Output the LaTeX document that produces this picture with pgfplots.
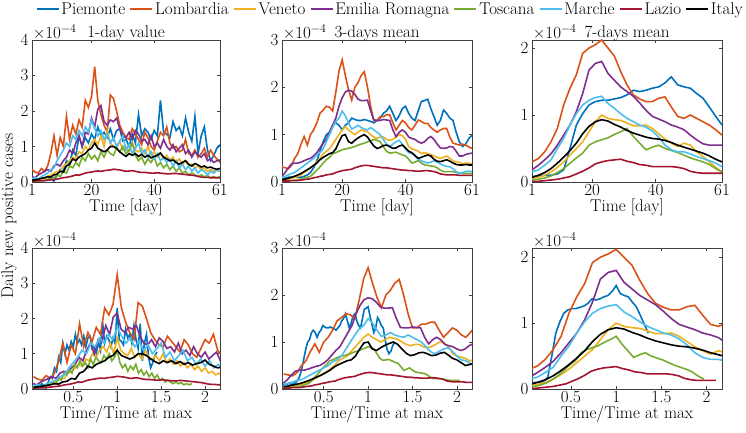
\documentclass[border=0pt]{standalone}
\usepackage{fontspec}
\usepackage{pgfplots}
\usepackage{pgfplotstable}
\pgfplotsset{compat=1.18}

\definecolor{cpie}{rgb}{0,0.447,0.741}
\definecolor{clom}{rgb}{0.85,0.325,0.098}
\definecolor{cven}{rgb}{0.929,0.694,0.125}
\definecolor{cemi}{rgb}{0.494,0.184,0.556}
\definecolor{ctos}{rgb}{0.466,0.674,0.188}
\definecolor{cmar}{rgb}{0.301,0.745,0.933}
\definecolor{claz}{rgb}{0.635,0.078,0.184}

% 1-day values (x1e-4)
\pgfplotstableread{
day pie lom ven emi tos mar laz ita
1 0.10 0.35 0.05 0.15 0.02 0.10 0.02 0.05
2 0.05 0.28 0.05 0.12 0.03 0.12 0.03 0.06
3 0.08 0.25 0.08 0.20 0.02 0.08 0.03 0.08
4 0.12 0.38 0.10 0.25 0.05 0.15 0.03 0.10
5 0.10 0.30 0.10 0.30 0.04 0.20 0.04 0.12
6 0.15 0.45 0.15 0.35 0.08 0.25 0.05 0.15
7 0.10 0.80 0.20 0.30 0.10 0.35 0.06 0.14
8 0.02 1.30 0.25 0.45 0.12 0.40 0.07 0.20
9 0.20 0.75 0.30 0.50 0.20 0.60 0.08 0.22
10 0.35 1.25 0.30 0.45 0.15 0.75 0.10 0.30
11 0.30 1.00 0.45 0.60 0.30 0.90 0.12 0.28
12 0.60 1.85 0.50 0.70 0.25 1.10 0.13 0.45
13 0.50 1.20 0.60 0.90 0.45 1.00 0.15 0.50
14 0.90 1.60 0.70 0.80 0.40 1.30 0.17 0.65
15 0.75 1.35 0.65 1.10 0.55 1.20 0.20 0.60
16 1.30 1.75 0.85 1.30 0.45 1.45 0.19 0.70
17 1.00 1.55 0.80 1.00 0.70 1.30 0.22 0.75
18 1.25 2.30 1.00 1.40 0.60 1.55 0.25 0.80
19 1.10 2.10 0.90 1.35 0.80 1.40 0.27 0.90
20 1.35 2.40 1.10 1.80 0.65 1.75 0.28 0.95
21 1.20 3.25 1.20 1.55 0.75 1.50 0.30 1.10
22 1.55 2.30 1.05 2.05 0.60 1.30 0.31 0.95
23 1.30 1.90 1.30 2.15 0.85 1.45 0.30 0.90
24 1.40 1.60 1.00 1.70 0.70 1.20 0.32 0.85
25 1.25 1.40 1.45 1.60 0.90 1.35 0.33 0.90
26 1.50 2.45 1.10 1.75 0.80 1.10 0.34 1.00
27 1.20 2.35 1.00 1.70 0.75 1.25 0.36 1.00
28 1.45 2.00 0.95 1.80 0.95 1.00 0.35 0.95
29 1.50 1.60 1.15 1.50 0.85 1.15 0.34 0.85
30 1.15 1.40 0.90 1.30 1.00 1.30 0.32 0.78
31 1.20 1.25 1.00 1.25 0.80 0.90 0.30 0.72
32 1.00 1.20 0.85 1.40 0.90 1.05 0.31 0.80
33 1.35 1.50 1.10 1.20 1.10 0.80 0.32 0.75
34 1.10 1.35 0.90 1.45 0.75 0.95 0.30 0.80
35 1.90 1.20 0.85 1.35 0.60 1.10 0.28 0.72
36 1.30 1.05 0.95 1.15 0.70 0.80 0.27 0.78
37 1.50 1.40 0.80 1.20 0.50 0.90 0.27 0.70
38 1.40 1.25 1.00 1.05 0.65 0.70 0.26 0.75
39 1.20 1.00 0.75 1.30 0.55 0.85 0.25 0.68
40 1.45 0.90 0.85 1.00 0.70 0.65 0.25 0.72
41 1.30 1.15 0.70 1.10 0.45 0.80 0.26 0.75
42 2.30 1.40 0.80 0.95 0.55 0.60 0.25 0.82
43 1.40 1.30 0.65 1.20 0.40 0.70 0.24 0.70
44 1.35 1.55 0.75 1.00 0.50 0.55 0.23 0.65
45 1.25 1.10 0.60 0.90 0.35 0.65 0.23 0.60
46 1.70 0.95 0.70 1.05 0.45 0.45 0.24 0.62
47 1.45 1.00 0.55 0.85 0.30 0.60 0.24 0.55
48 1.55 0.85 0.65 0.95 0.40 0.40 0.23 0.50
49 1.30 0.90 0.50 1.05 0.25 0.50 0.22 0.55
50 1.80 1.20 0.60 0.80 0.30 0.35 0.21 0.60
51 1.40 0.80 0.45 0.90 0.20 0.45 0.20 0.50
52 1.15 0.75 0.50 0.70 0.25 0.30 0.19 0.45
53 1.85 0.90 0.40 0.85 0.20 0.40 0.18 0.52
54 0.80 0.70 0.45 0.75 0.15 0.25 0.16 0.48
55 1.30 0.80 0.35 0.70 0.20 0.35 0.14 0.42
56 1.55 0.95 0.40 0.80 0.15 0.30 0.13 0.45
57 0.90 0.70 0.30 0.60 0.18 0.20 0.13 0.40
58 0.60 0.90 0.35 0.65 0.12 0.30 0.12 0.42
59 0.75 0.75 0.30 0.55 0.15 0.25 0.12 0.38
60 0.95 0.65 0.32 0.60 0.12 0.35 0.12 0.36
61 1.05 0.55 0.30 0.62 0.15 0.30 0.12 0.38
}\tabA

% 3-days mean
\pgfplotstableread{
day pie lom ven emi tos mar laz ita
1 0.08 0.32 0.05 0.12 0.02 0.10 0.02 0.05
2 0.08 0.30 0.05 0.20 0.02 0.12 0.02 0.06
3 0.10 0.28 0.06 0.30 0.03 0.15 0.02 0.08
4 0.10 0.35 0.08 0.38 0.03 0.18 0.03 0.10
5 0.12 0.50 0.10 0.40 0.04 0.20 0.03 0.12
6 0.10 0.60 0.12 0.40 0.05 0.25 0.03 0.15
7 0.10 0.80 0.15 0.42 0.06 0.30 0.04 0.18
8 0.12 0.96 0.20 0.45 0.08 0.35 0.05 0.22
9 0.15 0.78 0.25 0.48 0.10 0.40 0.06 0.26
10 0.20 1.00 0.30 0.50 0.12 0.45 0.07 0.30
11 0.30 1.10 0.35 0.55 0.18 0.50 0.09 0.35
12 0.45 1.25 0.42 0.62 0.25 0.58 0.10 0.40
13 0.65 1.45 0.50 0.72 0.32 0.62 0.12 0.47
14 0.85 1.52 0.60 0.82 0.40 0.70 0.13 0.52
15 1.00 1.60 0.65 0.90 0.47 0.85 0.15 0.56
16 1.05 1.58 0.70 1.05 0.52 1.00 0.16 0.60
17 1.20 1.50 0.80 1.20 0.60 1.15 0.17 0.62
18 1.25 1.90 0.90 1.35 0.62 1.28 0.20 0.70
19 1.20 2.35 1.00 1.60 0.65 1.35 0.22 0.85
20 1.10 2.58 1.10 1.78 0.68 1.50 0.24 0.98
21 1.20 2.25 1.17 1.90 0.70 1.40 0.25 1.00
22 1.25 1.95 1.10 1.94 0.71 1.25 0.26 0.85
23 1.35 1.73 1.05 1.92 0.73 1.12 0.27 0.82
24 1.32 2.00 1.00 1.85 0.75 1.15 0.30 0.88
25 1.30 2.10 1.05 1.75 0.78 1.20 0.32 0.93
26 1.30 2.25 1.10 1.72 0.80 1.15 0.34 0.97
27 1.32 2.33 1.08 1.72 0.82 1.12 0.35 1.00
28 1.30 2.00 1.06 1.73 0.85 1.10 0.35 0.95
29 1.28 1.60 1.00 1.50 0.87 1.15 0.34 0.85
30 1.25 1.30 0.95 1.31 0.90 1.10 0.33 0.76
31 1.30 1.30 0.92 1.30 0.88 1.05 0.32 0.71
32 1.35 1.38 0.95 1.30 0.85 1.00 0.31 0.73
33 1.45 1.38 0.95 1.32 0.75 0.90 0.30 0.77
34 1.50 1.42 0.90 1.31 0.65 0.80 0.30 0.78
35 1.60 1.42 0.88 1.30 0.61 0.75 0.29 0.75
36 1.45 1.25 0.90 1.10 0.62 0.80 0.28 0.71
37 1.30 1.10 0.95 0.96 0.63 0.85 0.27 0.72
38 1.40 1.20 1.00 1.05 0.60 0.88 0.26 0.76
39 1.55 1.30 0.98 1.10 0.57 0.80 0.25 0.78
40 1.60 1.25 0.90 1.05 0.55 0.70 0.25 0.72
41 1.45 1.15 0.75 0.95 0.48 0.62 0.24 0.65
42 1.35 1.10 0.70 0.92 0.40 0.60 0.24 0.62
43 1.30 1.20 0.68 0.90 0.42 0.55 0.23 0.56
44 1.50 1.31 0.65 0.85 0.45 0.48 0.23 0.50
45 1.70 1.28 0.60 0.82 0.40 0.45 0.23 0.52
46 1.72 1.24 0.62 0.85 0.36 0.42 0.24 0.55
47 1.75 1.24 0.60 0.92 0.35 0.40 0.24 0.57
48 1.55 1.15 0.58 0.96 0.34 0.42 0.23 0.55
49 1.38 1.10 0.55 0.90 0.33 0.45 0.22 0.48
50 1.20 1.05 0.52 0.80 0.30 0.42 0.20 0.44
51 1.30 1.10 0.50 0.72 0.25 0.38 0.17 0.43
52 1.52 1.13 0.52 0.71 0.22 0.35 0.16 0.45
53 1.45 1.13 0.55 0.72 0.22 0.33 0.15 0.47
54 1.35 0.95 0.50 0.75 0.22 0.32 0.15 0.44
55 1.30 0.82 0.45 0.74 0.22 0.28 0.15 0.40
56 1.05 0.80 0.42 0.65 0.20 0.22 0.15 0.37
57 0.85 0.78 0.42 0.55 0.19 0.18 0.14 0.36
58 0.75 0.80 0.38 0.55 0.18 0.20 0.14 0.36
59 0.80 0.78 0.40 0.58 0.18 0.22 0.14 0.37
60 0.92 0.74 0.40 0.60 0.18 0.23 0.14 0.36
61 0.99 0.71 0.38 0.61 0.18 0.22 0.14 0.36
}\tabB

% 7-days mean
\pgfplotstableread{
day pie lom ven emi tos mar laz ita
1 0.08 0.30 0.05 0.18 0.03 0.15 0.01 0.07
3 0.09 0.35 0.07 0.25 0.04 0.18 0.01 0.10
5 0.10 0.45 0.10 0.33 0.06 0.25 0.02 0.14
7 0.10 0.60 0.15 0.42 0.09 0.33 0.03 0.20
9 0.12 0.80 0.22 0.55 0.14 0.50 0.04 0.28
11 0.18 1.15 0.30 0.70 0.20 0.65 0.06 0.37
13 0.50 1.40 0.40 0.85 0.28 0.85 0.08 0.47
15 0.85 1.60 0.50 1.05 0.36 1.02 0.12 0.58
17 1.02 1.92 0.60 1.32 0.43 1.15 0.16 0.72
19 1.15 2.00 0.75 1.67 0.55 1.22 0.21 0.83
21 1.20 2.05 0.90 1.77 0.60 1.26 0.27 0.90
23 1.22 2.12 1.00 1.80 0.63 1.28 0.30 0.93
25 1.22 2.00 0.95 1.62 0.66 1.17 0.32 0.91
27 1.24 1.88 0.93 1.52 0.71 1.10 0.33 0.86
29 1.26 1.65 0.92 1.42 0.75 1.02 0.34 0.82
31 1.30 1.45 0.88 1.35 0.80 0.95 0.31 0.77
33 1.37 1.30 0.84 1.28 0.68 0.90 0.29 0.73
35 1.35 1.24 0.84 1.18 0.58 0.85 0.26 0.70
37 1.37 1.20 0.85 1.07 0.48 0.82 0.25 0.67
39 1.40 1.20 0.80 0.98 0.52 0.76 0.23 0.65
41 1.42 1.25 0.72 0.94 0.55 0.67 0.23 0.64
43 1.48 1.27 0.64 0.90 0.50 0.55 0.23 0.62
45 1.57 1.12 0.58 0.85 0.47 0.48 0.23 0.59
47 1.45 0.98 0.53 0.82 0.44 0.45 0.22 0.55
49 1.42 0.95 0.58 0.78 0.40 0.45 0.20 0.52
51 1.40 1.00 0.55 0.70 0.36 0.42 0.16 0.49
53 1.32 0.95 0.45 0.63 0.33 0.38 0.14 0.46
55 1.25 0.90 0.38 0.57 0.30 0.35 0.13 0.43
57 1.12 0.85 0.30 0.55 0.26 0.32 0.13 0.39
59 0.98 0.78 0.22 0.55 0.20 0.28 0.13 0.34
61 0.85 0.70 0.15 0.55 0.15 0.23 0.13 0.30
}\tabC

\newcommand{\fs}{\fontsize{17}{20}\selectfont}

% one series: table, column, day of max (1 = plain days), colour
\newcommand{\ser}[4]{\addplot[#4] table[x expr=\thisrow{day}/#3, y=#2]{#1};}

% all eight regions of one panel
\newcommand{\allser}[9]{%
  \ser{#1}{pie}{#2}{cpie}
  \ser{#1}{lom}{#3}{clom}
  \ser{#1}{ven}{#4}{cven}
  \ser{#1}{emi}{#5}{cemi}
  \ser{#1}{tos}{#6}{ctos}
  \ser{#1}{mar}{#7}{cmar}
  \ser{#1}{laz}{#8}{claz}
  \ser{#1}{ita}{#9}{black}
}

\pgfplotsset{
  panel/.style={
    scale only axis,
    anchor=south west,
    font=\fs,
    tick label style={font=\fs},
    /pgf/number format/assume math mode=true,
    title style={font=\fs, yshift=-10pt},
    xlabel style={font=\fs, yshift=4pt},
    xticklabel style={yshift=1pt},
    axis line style={black!75, line width=0.5pt},
    tick style={black!75, line width=0.5pt},
    major tick length=3pt,
    tick align=inside,
    ymin=0,
    every axis plot/.append style={line width=1.6pt, no markers},
    extra description/.code={\node[anchor=south west, inner sep=1pt, font=\fs] at (0,1) {×10\textsuperscript{−4}};},
  },
  toprow/.style={panel, height=142pt, xmin=1, xmax=61, xtick={1,20,40,61}, xlabel={Time [day]}},
  botrow/.style={panel, height=141pt, xmin=0.03, xmax=2.17, xtick={0.5,1,1.5,2},
    xticklabels={0.5,1,1.5,2}, xlabel={Time/Time at max}},
}

\begin{document}
\begin{tikzpicture}[x=1pt,y=1pt]
\useasboundingbox (0,0) rectangle (746,433);

\node[rotate=90, font=\fs] at (9,217) {Daily new positive cases};

% top left
\begin{axis}[toprow, at={(32pt,251pt)}, width=188pt, ymax=4, ytick={0,1,2,3,4},
  title={1-day value},
  legend columns=8,
  legend style={at={(3.793,1.265)}, anchor=north east, draw=none, fill=none, font=\fs,
    inner sep=0pt, nodes={inner xsep=2pt, inner ysep=0pt},
    /tikz/every even column/.append style={column sep=2.3pt}},
  legend image code/.code={\draw[#1, line width=1.6pt] (0pt,0pt) -- (22pt,0pt);},
]
\allser{\tabA}{1}{1}{1}{1}{1}{1}{1}{1}
\legend{Piemonte,Lombardia,Veneto,Emilia Romagna,Toscana,Marche,Lazio,Italy}
\end{axis}

% top middle
\begin{axis}[toprow, at={(282pt,251pt)}, width=190pt, ymax=3, ytick={0,1,2,3},
  title={3-days mean}]
\allser{\tabB}{1}{1}{1}{1}{1}{1}{1}{1}
\end{axis}

% top right
\begin{axis}[toprow, at={(532pt,251pt)}, width=190pt, ymax=2.12, ytick={0,1,2},
  title={7-days mean}]
\allser{\tabC}{1}{1}{1}{1}{1}{1}{1}{1}
\end{axis}

% bottom left
\begin{axis}[botrow, at={(32pt,44pt)}, width=188pt, ymax=4, ytick={0,1,2,3,4}]
\allser{\tabA}{42}{21}{25}{23}{33}{20}{27}{21}
\end{axis}

% bottom middle
\begin{axis}[botrow, at={(282pt,44pt)}, width=190pt, ymax=3, ytick={0,1,2,3}]
\allser{\tabB}{47}{20}{21}{22}{30}{20}{27}{21}
\end{axis}

% bottom right
\begin{axis}[botrow, at={(532pt,44pt)}, width=190pt, ymax=2.14, ytick={0,1,2}, xmin=0.07]
\allser{\tabC}{45}{23}{23}{23}{31}{23}{29}{23}
\end{axis}
\end{tikzpicture}
\end{document}
